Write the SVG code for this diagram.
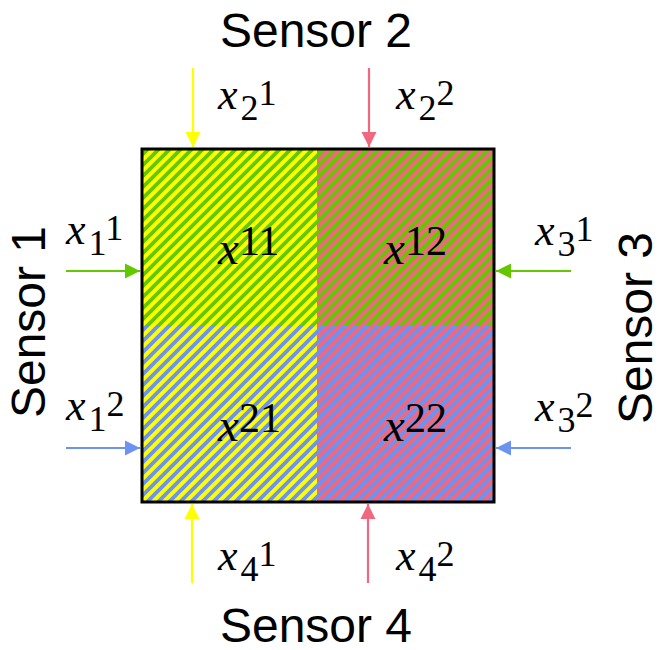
<svg xmlns="http://www.w3.org/2000/svg" width="658" height="650" viewBox="0 0 658 650">
  <style>
    .sensor { font-family: "Liberation Sans", Arial, sans-serif; font-size: 48px; fill: #000; text-anchor: middle; }
    .m { font-family: "Liberation Serif", "Times New Roman", serif; fill: #000; }
    .v { font-style: italic; font-size: 44px; }
    .vb { font-style: italic; font-size: 47px; }
    .s { font-size: 36px; }
    .big { font-size: 42px; }
    .arr { stroke-width: 2.2; fill: none; }
    .stG { stroke: #64c800; stroke-width: 3.8; }
    .stB { stroke: #6c93f2; stroke-width: 3.8; }
  </style>
  <defs>
    <pattern id="pYG" patternUnits="userSpaceOnUse" x="0" y="0" width="11" height="11">
      <rect width="11" height="11" fill="#ffff00"/>
      <path class="stG" d="M-5.5,5.5 L5.5,-5.5 M0,11 L11,0 M5.5,16.5 L16.5,5.5"/>
    </pattern>
    <pattern id="pPG" patternUnits="userSpaceOnUse" x="0" y="0" width="11" height="11">
      <rect width="11" height="11" fill="#f0677f"/>
      <path class="stG" d="M-5.5,5.5 L5.5,-5.5 M0,11 L11,0 M5.5,16.5 L16.5,5.5"/>
    </pattern>
    <pattern id="pYB" patternUnits="userSpaceOnUse" x="0" y="0" width="11" height="11">
      <rect width="11" height="11" fill="#ffff00"/>
      <path class="stB" d="M-5.5,5.5 L5.5,-5.5 M0,11 L11,0 M5.5,16.5 L16.5,5.5"/>
    </pattern>
    <pattern id="pPB" patternUnits="userSpaceOnUse" x="0" y="0" width="11" height="11">
      <rect width="11" height="11" fill="#f0677f"/>
      <path class="stB" d="M-5.5,5.5 L5.5,-5.5 M0,11 L11,0 M5.5,16.5 L16.5,5.5"/>
    </pattern>
    <marker id="hY" viewBox="0 0 10 10" refX="10" refY="5" markerWidth="7" markerHeight="7" orient="auto" markerUnits="strokeWidth">
      <path d="M0,0 L10,5 L0,10 z" fill="#ffff00"/>
    </marker>
    <marker id="hP" viewBox="0 0 10 10" refX="10" refY="5" markerWidth="7" markerHeight="7" orient="auto" markerUnits="strokeWidth">
      <path d="M0,0 L10,5 L0,10 z" fill="#f0677f"/>
    </marker>
    <marker id="hG" viewBox="0 0 10 10" refX="10" refY="5" markerWidth="7" markerHeight="7" orient="auto" markerUnits="strokeWidth">
      <path d="M0,0 L10,5 L0,10 z" fill="#64c800"/>
    </marker>
    <marker id="hB" viewBox="0 0 10 10" refX="10" refY="5" markerWidth="7" markerHeight="7" orient="auto" markerUnits="strokeWidth">
      <path d="M0,0 L10,5 L0,10 z" fill="#6c93f2"/>
    </marker>
  </defs>
  <rect width="658" height="650" fill="#ffffff"/>

  <g id="grid">
    <g id="cell11">
      <rect x="142" y="149" width="175" height="176" fill="url(#pYG)"/>
      <text class="m" x="218" y="264"><tspan class="vb">x</tspan><tspan class="big" dy="-9">11</tspan></text>
    </g>
    <g id="cell12">
      <rect x="317" y="149" width="177" height="176" fill="url(#pPG)"/>
      <text class="m" x="384" y="264"><tspan class="vb">x</tspan><tspan class="big" dy="-9">12</tspan></text>
    </g>
    <g id="cell21">
      <rect x="142" y="325" width="175" height="177" fill="url(#pYB)"/>
      <text class="m" x="218" y="441"><tspan class="vb">x</tspan><tspan class="big" dy="-9">21</tspan></text>
    </g>
    <g id="cell22">
      <rect x="317" y="325" width="177" height="177" fill="url(#pPB)"/>
      <text class="m" x="384" y="441"><tspan class="vb">x</tspan><tspan class="big" dy="-9">22</tspan></text>
    </g>
    <rect id="frame" x="142" y="149" width="352" height="353" fill="none" stroke="#000" stroke-width="3"/>
  </g>

  <g id="connectors">
    <line class="arr" x1="193" y1="68" x2="193" y2="147" stroke="#ffff00" marker-end="url(#hY)"/>
    <line class="arr" x1="369" y1="68" x2="369" y2="147" stroke="#f0677f" marker-end="url(#hP)"/>
    <line class="arr" x1="66" y1="271" x2="140" y2="271" stroke="#64c800" marker-end="url(#hG)"/>
    <line class="arr" x1="66" y1="448" x2="140" y2="448" stroke="#6c93f2" marker-end="url(#hB)"/>
    <line class="arr" x1="571" y1="271" x2="496" y2="271" stroke="#64c800" marker-end="url(#hG)"/>
    <line class="arr" x1="571" y1="448" x2="496" y2="448" stroke="#6c93f2" marker-end="url(#hB)"/>
    <line class="arr" x1="192" y1="583" x2="192" y2="504" stroke="#ffff00" marker-end="url(#hY)"/>
    <line class="arr" x1="368" y1="583" x2="368" y2="504" stroke="#f0677f" marker-end="url(#hP)"/>
  </g>

  <g id="sensor2">
    <text class="sensor" x="316" y="47">Sensor 2</text>
    <text class="m" x="218" y="109"><tspan class="v">x</tspan><tspan class="s" dx="3" dy="11">2</tspan><tspan class="s" dy="-15">1</tspan></text>
    <text class="m" x="396" y="109"><tspan class="v">x</tspan><tspan class="s" dx="3" dy="11">2</tspan><tspan class="s" dy="-15">2</tspan></text>
  </g>
  <g id="sensor1">
    <text class="sensor" transform="translate(45,322) rotate(-90)">Sensor 1</text>
    <text class="m" x="66" y="244"><tspan class="v">x</tspan><tspan class="s" dx="3" dy="11">1</tspan><tspan class="s" dy="-15">1</tspan></text>
    <text class="m" x="66" y="420"><tspan class="v">x</tspan><tspan class="s" dx="3" dy="11">1</tspan><tspan class="s" dy="-15">2</tspan></text>
  </g>
  <g id="sensor3">
    <text class="sensor" transform="translate(652,328) rotate(-90)">Sensor 3</text>
    <text class="m" x="535" y="245"><tspan class="v">x</tspan><tspan class="s" dx="3" dy="11">3</tspan><tspan class="s" dy="-15">1</tspan></text>
    <text class="m" x="535" y="421"><tspan class="v">x</tspan><tspan class="s" dx="3" dy="11">3</tspan><tspan class="s" dy="-15">2</tspan></text>
  </g>
  <g id="sensor4">
    <text class="sensor" x="316" y="642">Sensor 4</text>
    <text class="m" x="218" y="570"><tspan class="v">x</tspan><tspan class="s" dx="3" dy="11">4</tspan><tspan class="s" dy="-15">1</tspan></text>
    <text class="m" x="396" y="570"><tspan class="v">x</tspan><tspan class="s" dx="3" dy="11">4</tspan><tspan class="s" dy="-15">2</tspan></text>
  </g>
</svg>
